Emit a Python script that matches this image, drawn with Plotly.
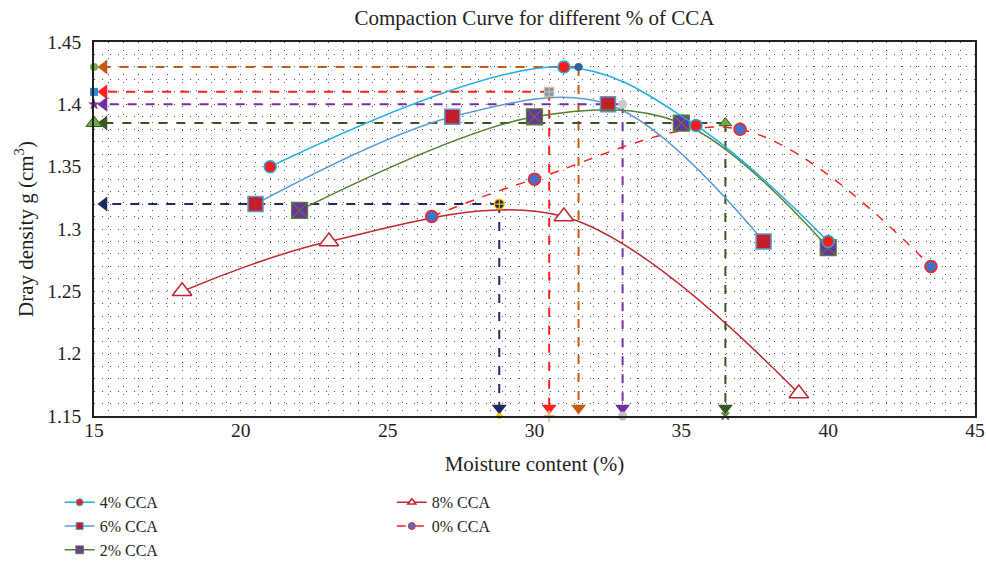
import plotly.graph_objects as go

# Moisture content (%) and dry density for each CCA dosage
moist_4 = [21, 31, 35.5, 40]
dens_4 = [1.35, 1.43, 1.383, 1.29]
moist_6 = [20.5, 27.2, 32.5, 37.8]
dens_6 = [1.32, 1.39, 1.40, 1.29]
moist_2 = [22, 30, 35, 40]
dens_2 = [1.315, 1.39, 1.385, 1.285]
moist_8 = [18, 23, 31, 39]
dens_8 = [1.25, 1.29, 1.31, 1.168]
moist_0 = [26.5, 30, 37, 43.5]
dens_0 = [1.31, 1.34, 1.38, 1.27]

# Optimum moisture content / maximum dry density read-offs
opt_labels = ["4%", "6%", "2%", "0%", "8%"]
opt_omc = [31.5, 30.5, 33, 36.5, 28.8]
opt_mdd = [1.43, 1.41, 1.40, 1.385, 1.32]

x_ticks = [15, 20, 25, 30, 35, 40, 45]
y_ticks = [1.15, 1.2, 1.25, 1.3, 1.35, 1.4, 1.45]

XMIN, XMAX = 15, 45
YMIN, YMAX = 1.15, 1.45

FONT = "Liberation Serif"
TXT = "#231F20"

fig = go.Figure()

# Read-off guides: colour, dash, peak marker, axis-end marker (left), axis-end marker (bottom)
guide_style = {
    "4%": dict(color="#C55A11", dash="dash",
               peak=dict(symbol="circle", color="#2E5F9E", size=8, line=dict(width=0)),
               left=dict(symbol="circle", color="#70AD47", size=8, line=dict(width=0)),
               bottom=None),
    "6%": dict(color="#FF1F1F", dash="dash",
               peak=dict(symbol="square-cross", color="#5B9BD5", size=9, line=dict(width=1.2, color="#F4B183")),
               left=dict(symbol="square", color="#2E8BD8", size=8, line=dict(width=0)),
               bottom=dict(symbol="cross-thin", color="#F4B183", size=8, line=dict(width=2, color="#F4B183"))),
    "2%": dict(color="#7030A0", dash="dash",
               peak=dict(symbol="circle", color="#C8C8C8", size=9, line=dict(width=0)),
               left=dict(symbol="star", color="#7030A0", size=9, line=dict(width=0)),
               bottom=dict(symbol="circle", color="#BFBFBF", size=9, line=dict(width=0))),
    "0%": dict(color="#375623", dash="dash",
               peak=dict(symbol="triangle-up", color="#70AD47", size=11, line=dict(width=1, color="#375623")),
               left=dict(symbol="triangle-up", color="#70AD47", size=14, line=dict(width=1, color="#375623")),
               bottom=dict(symbol="x-thin", color="#548235", size=7, line=dict(width=2, color="#548235"))),
    "8%": dict(color="#1F2A5E", dash="dash",
               peak=dict(symbol="circle-cross", color="#1F2A5E", size=10, line=dict(width=1.2, color="#FFC000")),
               left=None,
               bottom=dict(symbol="circle", color="#FFC000", size=6, line=dict(width=0))),
}

arrow_dx = 0.34    # arrow head sits just inside the y axis
arrow_dy = 0.0065  # arrow head sits just above the x axis

for lab, xo, yo in zip(opt_labels, opt_omc, opt_mdd):
    st = guide_style[lab]
    # horizontal guide to the density axis
    fig.add_trace(go.Scatter(x=[xo, XMIN + arrow_dx], y=[yo, yo], mode="lines",
                             line=dict(color=st["color"], width=2, dash=st["dash"]),
                             showlegend=False, hoverinfo="skip", cliponaxis=False))
    # vertical guide to the moisture axis
    fig.add_trace(go.Scatter(x=[xo, xo], y=[yo, YMIN + arrow_dy], mode="lines",
                             line=dict(color=st["color"], width=2, dash=st["dash"]),
                             showlegend=False, hoverinfo="skip", cliponaxis=False))
    # arrow heads
    fig.add_trace(go.Scatter(x=[XMIN + arrow_dx], y=[yo], mode="markers",
                             marker=dict(symbol="triangle-left", size=13, color=st["color"]),
                             showlegend=False, hoverinfo="skip", cliponaxis=False))
    fig.add_trace(go.Scatter(x=[xo], y=[YMIN + arrow_dy], mode="markers",
                             marker=dict(symbol="triangle-down", size=13, color=st["color"]),
                             showlegend=False, hoverinfo="skip", cliponaxis=False))
    if st["left"]:
        fig.add_trace(go.Scatter(x=[XMIN], y=[yo], mode="markers", marker=st["left"],
                                 showlegend=False, hoverinfo="skip", cliponaxis=False))
    if st["bottom"]:
        fig.add_trace(go.Scatter(x=[xo], y=[YMIN], mode="markers", marker=st["bottom"],
                                 showlegend=False, hoverinfo="skip", cliponaxis=False))

# Compaction curves
curves = [
    dict(name="8% CCA", x=moist_8, y=dens_8, lc="#C0282D", ldash="solid",
         mk=dict(symbol="triangle-up", size=17, color="white", line=dict(color="#C0282D", width=1.5)),
         lmk=dict(symbol="triangle-up", size=7, color="white", line=dict(color="#C0282D", width=1.5))),
    dict(name="0% CCA", x=moist_0, y=dens_0, lc="#FF2020", ldash="dash",
         mk=dict(symbol="circle", size=12, color="#4472C4", line=dict(color="#FF2020", width=1.5)),
         lmk=dict(symbol="circle", size=7, color="#4472C4", line=dict(color="#FF2020", width=1))),
    dict(name="6% CCA", x=moist_6, y=dens_6, lc="#5B9BD5", ldash="solid",
         mk=dict(symbol="square", size=15, color="#C0202A", line=dict(color="#5B9BD5", width=1.5)),
         lmk=dict(symbol="square", size=7, color="#C0202A", line=dict(color="#5B9BD5", width=1))),
    dict(name="2% CCA", x=moist_2, y=dens_2, lc="#548235", ldash="solid",
         mk=dict(symbol="square-x", size=16, color="#7030A0", line=dict(color="#548235", width=1.2)),
         lmk=dict(symbol="square-x", size=8, color="#7030A0", line=dict(color="#548235", width=0.6))),
    dict(name="4% CCA", x=moist_4, y=dens_4, lc="#1FAEE6", ldash="solid",
         mk=dict(symbol="circle", size=12, color="#FF1A1A", line=dict(color="#1FAEE6", width=1.5)),
         lmk=dict(symbol="circle", size=7, color="#FF1A1A", line=dict(color="#1FAEE6", width=1))),
]

legend_of = {"4% CCA": "legend", "6% CCA": "legend", "2% CCA": "legend",
             "8% CCA": "legend2", "0% CCA": "legend2"}
rank_of = {"4% CCA": 1, "6% CCA": 2, "2% CCA": 3, "8% CCA": 1, "0% CCA": 2}

for c in curves:
    fig.add_trace(go.Scatter(x=c["x"], y=c["y"], mode="lines+markers", name=c["name"],
                             line=dict(color=c["lc"], width=1.5, dash=c["ldash"], shape="spline", smoothing=1),
                             marker=c["mk"], showlegend=False))
    # legend entry with a compact marker
    fig.add_trace(go.Scatter(x=[None], y=[None], mode="lines+markers", name=c["name"],
                             line=dict(color=c["lc"], width=1.5, dash=c["ldash"]),
                             marker=c["lmk"], legend=legend_of[c["name"]],
                             legendrank=rank_of[c["name"]]))

# peak markers drawn on top of the curves
for lab, xo, yo in zip(opt_labels, opt_omc, opt_mdd):
    fig.add_trace(go.Scatter(x=[xo], y=[yo], mode="markers", marker=guide_style[lab]["peak"],
                             showlegend=False, hoverinfo="skip", cliponaxis=False))

grid_style = dict(showgrid=True, gridcolor="#555555", gridwidth=1, griddash="1px,7px")

legend_common = dict(yref="container", y=0.138, xanchor="left", yanchor="top", orientation="v",
                     bgcolor="rgba(0,0,0,0)", font=dict(size=16, color=TXT),
                     tracegroupgap=0, itemwidth=30)

fig.update_layout(
    width=986, height=563,
    margin=dict(l=94, r=11, t=42, b=147, autoexpand=False),
    paper_bgcolor="white", plot_bgcolor="white",
    font=dict(family=FONT, size=20, color=TXT),
    title=dict(text="Compaction Curve for different % of CCA", x=0.5, xref="paper",
               xanchor="center", y=0.969, yanchor="middle",
               font=dict(family=FONT, size=21, color=TXT)),
    xaxis=dict(range=[XMIN, XMAX], tickvals=x_ticks, ticktext=[str(v) for v in x_ticks],
               ticks="", showline=True, linecolor=TXT, linewidth=1.5, mirror=True,
               zeroline=False, tickfont=dict(size=19.5), ticklabelstandoff=-4,
               title=dict(text="Moisture content (%)", font=dict(size=21), standoff=16),
               minor=dict(dtick=0.5, **grid_style), **grid_style),
    yaxis=dict(range=[YMIN, YMAX], tickvals=y_ticks, ticktext=[f"{v:g}" for v in y_ticks],
               ticks="", showline=True, linecolor=TXT, linewidth=1.5, mirror=True,
               zeroline=False, tickfont=dict(size=19.5), ticklabelstandoff=7,
               title=dict(text="Dray density g (cm<sup>3</sup>)", font=dict(size=21), standoff=8),
               minor=dict(dtick=0.01, **grid_style), **grid_style),
    legend=dict(x=-0.039, **legend_common),
    legend2=dict(x=0.338, **legend_common),
)

fig.write_html("out.html")
